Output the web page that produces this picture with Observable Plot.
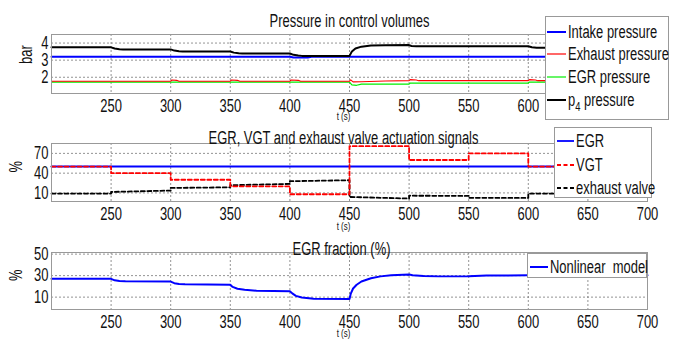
<!DOCTYPE html>
<html>
<head>
<meta charset="utf-8">
<script src="https://cdn.jsdelivr.net/npm/d3@7"></script>
<script src="https://cdn.jsdelivr.net/npm/@observablehq/plot@0.6"></script>
<style>
  html, body { margin: 0; padding: 0; background: #fff; }
  #chart { position: relative; width: 681px; height: 342px; overflow: hidden; background: #fff; }
  #chart svg { display: block; overflow: visible; }
  .legend { position: absolute; background: #fff; border: 1px solid #999; box-sizing: border-box; z-index: 5;
            font-family: 'Liberation Sans', Arial, sans-serif; font-size: 18px; color: #111; }
  .row { position: absolute; left: 0; height: 20px; line-height: 20px; white-space: nowrap; }
  .row svg { position: absolute; top: 0; left: 0; }
  .row span { position: absolute; top: 0; display: inline-block; transform: scaleX(0.72); transform-origin: 0 50%; }
  sub { font-size: 13px; vertical-align: -5px; line-height: 0; }
</style>
</head>
<body>
<div id="chart"></div>
<script>
// ---------- data ----------
const xTicks = [250, 300, 350, 400, 450, 500, 550, 600, 650, 700];
const xTicksTop = [250, 300, 350, 400, 450, 500, 550, 600]; // 650/700 sit under the legend in panel 1
const xGrid = [250, 300, 350, 400, 450, 500, 550, 600, 650];

// Panel 1: pressures (bar)
const p1Ticks = [2, 3, 4];
const intakePressure = [[200,3.2],[400,3.2],[403,3.15],[415,3.15],[418,3.2],[700,3.2]];
const exhaustPressure = [[200,1.77],[300,1.77],[301,1.84],[305,1.82],[307,1.77],[350,1.77],[351,1.84],[356,1.82],[358,1.77],
  [400,1.77],[401,1.84],[407,1.82],[409,1.77],[450,1.77],[451,1.85],[453,1.73],[460,1.74],[480,1.78],[500,1.8],
  [501,1.86],[506,1.84],[508,1.8],[550,1.8],[600,1.8],[601,1.86],[606,1.84],[608,1.8],[700,1.8]];
const egrPressure = [[200,1.71],[450,1.71],[452,1.55],[456,1.53],[460,1.6],[500,1.6],[501,1.66],[600,1.66],[601,1.72],[700,1.72]];
const p4Pressure = [[200,3.75],[250,3.75],[253,3.68],[257,3.64],[260,3.63],[300,3.63],[303,3.56],[307,3.52],[310,3.51],
  [350,3.51],[353,3.44],[357,3.40],[360,3.39],[400,3.39],[403,3.31],[407,3.27],[410,3.25],[450,3.25],[452,3.5],
  [455,3.68],[460,3.79],[468,3.85],[480,3.87],[500,3.88],[502,3.83],[506,3.81],[550,3.81],[600,3.81],[603,3.76],
  [607,3.73],[700,3.72]];

// Panel 2: actuation signals (%)
const p2Ticks = [10, 40, 70];
const egrSignal = [[200,50],[700,50]];
const vgtSignal = [[200,50],[250,50],[250,40],[300,40],[300,30],[350,30],[350,20],[400,20],[400,8],[450,8],
  [450,81],[500,81],[500,60],[550,60],[550,70],[600,70],[600,50],[700,50]];
const exhaustValve = [[200,9],[250,9],[250,11.5],[300,13.6],[300,17.6],[350,18.5],[350,21.7],[400,23.7],[400,27.8],
  [450,29.3],[450,3.9],[500,1.5],[500,5.8],[550,5.5],[550,2.6],[600,2.4],[600,9],[700,9]];

// Panel 3: EGR fraction (%)
const p3Ticks = [10, 30, 50];
const egrFraction = [[200,27],[250,27],[253,25.6],[257,24.9],[262,24.7],[300,24.5],[303,23],[307,22.2],[312,21.9],
  [350,21.4],[352,19.5],[356,17.8],[362,16.8],[372,16],[400,15.5],[402,13.5],[405,11.2],[410,9.6],[420,8.6],
  [450,8.2],[451,13],[453,18],[456,21.5],[460,24.5],[468,27.6],[476,29.3],[485,30.3],[500,31],[503,30.4],
  [512,29.6],[525,29.3],[550,29.4],[565,30],[600,30.3],[700,30.4]];

// ---------- drawing ----------
const FONT = "'Liberation Sans', Arial, sans-serif";
const SQUEEZE = 0.72;
const GRID = {stroke: "#777", strokeDasharray: "2,2", strokeWidth: 0.8};
const pts = () => ({x: d => d[0], y: d => d[1]});

function panel({height, mt, mb, ydomain, yticks, xticks, title, titleDy, titleDx, ylabel, ylabelDx, labelDy, marks}) {
  return Plot.plot({
    width: 681, height,
    marginLeft: 51, marginRight: 34, marginTop: mt, marginBottom: mb,
    style: {background: "transparent", fontFamily: FONT, fontSize: "18px", color: "#111", overflow: "visible"},
    x: {domain: [200, 700], ticks: xticks, tickSize: 0, tickPadding: 6, label: null, tickFormat: d => String(d)},
    y: {domain: ydomain, ticks: yticks, tickSize: 0, tickPadding: 3, label: null, tickFormat: d => String(d)},
    marks: [
      Plot.ruleX(xGrid, GRID),
      Plot.ruleY(yticks, GRID),
      ...marks,
      Plot.frame({stroke: "#999"}),
      Plot.text([title], {frameAnchor: "top", dy: titleDy, dx: titleDx, fontSize: 18, fill: "#111"}),
      Plot.text([ylabel], {frameAnchor: "left", dx: ylabelDx, rotate: -90, fontSize: 18, fill: "#111"}),
      Plot.text(["t (s)"], {frameAnchor: "bottom", dy: labelDy, dx: -6, fontSize: 11, fill: "#111"})
    ]
  });
}

const chart = document.getElementById("chart");

const plot1 = panel({
  height: 122, mt: 34, mb: 29, ydomain: [1.05, 4.5], yticks: p1Ticks, xticks: xTicksTop,
  title: "Pressure in control volumes", titleDy: -20, titleDx: 0,
  ylabel: "bar", ylabelDx: -25, labelDy: 26.5,
  marks: [
    Plot.line(egrPressure, {...pts(), stroke: "#00ee00", strokeWidth: 1.2}),
    Plot.line(exhaustPressure, {...pts(), stroke: "#ff0000", strokeWidth: 1.1}),
    Plot.line(intakePressure, {...pts(), stroke: "#0000ff", strokeWidth: 2}),
    Plot.line(p4Pressure, {...pts(), stroke: "#000", strokeWidth: 2})
  ]
});

const plot2 = panel({
  height: 110, mt: 21, mb: 31, ydomain: [-3, 85], yticks: p2Ticks, xticks: xTicks,
  title: "EGR, VGT and exhaust valve actuation signals", titleDy: -12, titleDx: -6,
  ylabel: "%", ylabelDx: -35, labelDy: 28,
  marks: [
    Plot.line(egrSignal, {...pts(), stroke: "#0000ff", strokeWidth: 2}),
    Plot.line(exhaustValve, {...pts(), stroke: "#000", strokeWidth: 1.8, strokeDasharray: "4,2.5"}),
    Plot.line(vgtSignal, {...pts(), stroke: "#ff0000", strokeWidth: 1.8, strokeDasharray: "4,2.5"})
  ]
});

const plot3 = panel({
  height: 110, mt: 20, mb: 33, ydomain: [-1.5, 51.5], yticks: p3Ticks, xticks: xTicks,
  title: "EGR fraction (%)", titleDy: -10, titleDx: -8,
  ylabel: "%", ylabelDx: -35, labelDy: 27.5,
  marks: [
    Plot.line(egrFraction, {...pts(), stroke: "#0000ff", strokeWidth: 2})
  ]
});

chart.append(plot1, plot2, plot3);

// condense the glyphs horizontally to mimic the narrow font of the original
for (const svg of [plot1, plot2, plot3]) {
  svg.querySelectorAll("text").forEach(t => {
    const L = t.getComputedTextLength();
    if (L > 0) {
      t.setAttribute("textLength", (L * SQUEEZE).toFixed(2));
      t.setAttribute("lengthAdjust", "spacingAndGlyphs");
    }
  });
}

// ---------- legends ----------
function legend(left, top, w, h, rows) {
  const div = document.createElement("div");
  div.className = "legend";
  Object.assign(div.style, {left: left + "px", top: top + "px", width: w + "px", height: h + "px"});
  for (const r of rows) {
    const row = document.createElement("div");
    row.className = "row";
    row.style.top = (r.cy - top - 10) + "px";
    row.style.width = (w - 2) + "px";
    const dash = r.dash ? `stroke-dasharray="${r.dash}"` : "";
    row.innerHTML = `<svg width="${r.sx2 + 2}" height="20"><line x1="${r.sx1}" x2="${r.sx2}" y1="10" y2="10" stroke="${r.color}" stroke-width="${r.sw}" ${dash}/></svg><span style="left:${r.tx}px">${r.label}</span>`;
    div.appendChild(row);
  }
  chart.appendChild(div);
}

const legend1Labels = ["Intake pressure", "Exhaust pressure", "EGR pressure", "p<sub>4</sub> pressure"];
const legend1Colors = ["#0000ff", "#ff0000", "#00ee00", "#000"];
legend(545, 16, 124, 104, legend1Labels.map((l, i) => ({
  cy: [31, 53, 76, 99][i], label: l, color: legend1Colors[i], sw: i === 0 || i === 3 ? 2 : 1.2,
  sx1: 1, sx2: 20, tx: 22
})));

const legend2Labels = ["EGR", "VGT", "exhaust valve"];
const legend2Colors = ["#0000ff", "#ff0000", "#000"];
legend(554, 127, 98, 71, legend2Labels.map((l, i) => ({
  cy: [140, 164, 187][i], label: l, color: legend2Colors[i], sw: 1.8, dash: i === 0 ? null : "4,2.5",
  sx1: 2, sx2: 19, tx: 21
})));

legend(527, 253, 120, 25, [{cy: 266, label: "Nonlinear&nbsp; model", color: "#0000ff", sw: 2, sx1: 2, sx2: 20, tx: 22}]);
</script>
</body>
</html>
